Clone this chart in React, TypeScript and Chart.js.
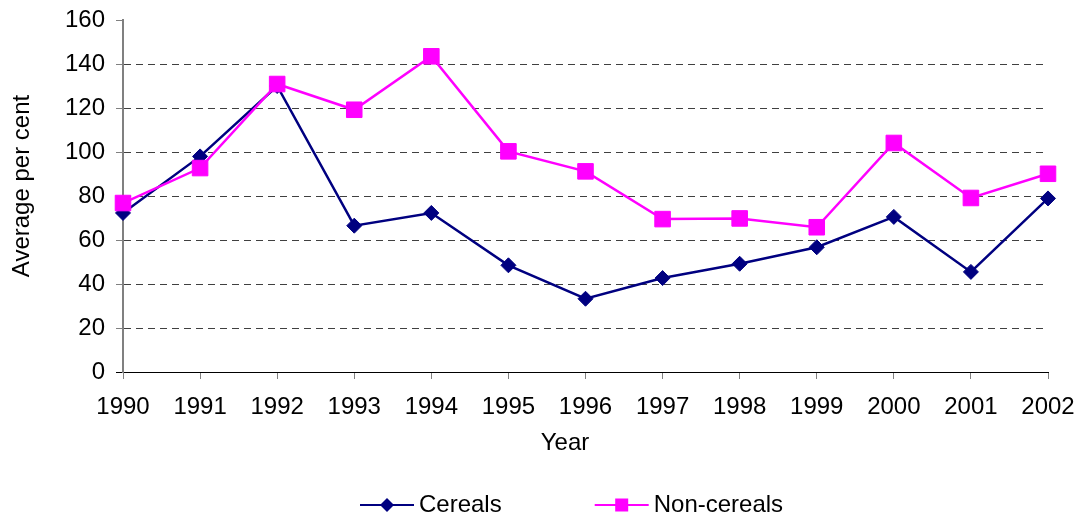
import React, { useEffect, useRef } from "react";
import { Chart, registerables } from "chart.js";

Chart.register(...registerables);

const years = ["1990", "1991", "1992", "1993", "1994", "1995", "1996", "1997", "1998", "1999", "2000", "2001", "2002"];
const cereals = [72.3, 98, 130, 66.5, 72.3, 48.5, 33.3, 42.7, 49.2, 56.7, 70.5, 45.5, 78.9];
const nonCereals = [76.8, 92.7, 130.9, 119.2, 143.5, 100.3, 91.2, 69.5, 69.8, 65.8, 104.1, 79.1, 90.1];
const seriesLabels = ["Cereals", "Non-cereals"];
const xTitle = "Year";
const yTitle = "Average per cent";
const yMin = 0;
const yMax = 160;
const yStep = 20;

const FONT = '"Liberation Sans", Arial, Helvetica, sans-serif';
const NAVY = "#000080";
const MAGENTA = "#FF00FF";

const decorPlugin = {
  id: "decor",
  afterDraw(chart: any) {
    const ctx: CanvasRenderingContext2D = chart.ctx;
    ctx.save();
    ctx.fillStyle = "#000";
    ctx.font = `24px ${FONT}`;
    ctx.textAlign = "center";
    ctx.textBaseline = "middle";
    // axis titles
    ctx.fillText(xTitle, 565, 443);
    ctx.save();
    ctx.translate(22, 186);
    ctx.rotate(-Math.PI / 2);
    ctx.fillText(yTitle, 0, 0);
    ctx.restore();
    // legend
    let x = 360;
    const y = 505;
    ctx.textAlign = "left";
    chart.data.datasets.forEach((ds: any) => {
      ctx.strokeStyle = ds.borderColor;
      ctx.lineWidth = 2;
      ctx.beginPath();
      ctx.moveTo(x, y);
      ctx.lineTo(x + 54, y);
      ctx.stroke();
      const cx = x + 27;
      ctx.fillStyle = ds.backgroundColor;
      ctx.beginPath();
      if (ds.pointStyle === "rectRot") {
        ctx.moveTo(cx, y - 7);
        ctx.lineTo(cx + 7, y);
        ctx.lineTo(cx, y + 7);
        ctx.lineTo(cx - 7, y);
        ctx.closePath();
      } else {
        ctx.rect(cx - 6.5, y - 6.5, 13, 13);
      }
      ctx.fill();
      ctx.fillStyle = "#000";
      ctx.fillText(ds.label, x + 59, y);
      const w = ctx.measureText(ds.label).width;
      x += 54 + 5 + w + 93;
    });
    ctx.restore();
  },
};

export default function App() {
  const ref = useRef<HTMLCanvasElement | null>(null);
  useEffect(() => {
    document.body.style.margin = "0";
    const canvas = ref.current;
    if (!canvas) return;
    const chart = new Chart(canvas, {
      type: "line",
      data: {
        labels: years,
        datasets: [
          {
            label: seriesLabels[0],
            data: cereals,
            borderColor: NAVY,
            backgroundColor: NAVY,
            borderWidth: 2.5,
            pointStyle: "rectRot",
            pointRadius: 7.5,
            pointBorderWidth: 1,
            pointBackgroundColor: NAVY,
            pointBorderColor: NAVY,
            tension: 0,
            order: 1,
          },
          {
            label: seriesLabels[1],
            data: nonCereals,
            borderColor: MAGENTA,
            backgroundColor: MAGENTA,
            borderWidth: 2.5,
            pointStyle: "rect",
            pointRadius: 11,
            pointBorderWidth: 1,
            pointBackgroundColor: MAGENTA,
            pointBorderColor: MAGENTA,
            tension: 0,
            order: 0,
          },
        ],
      },
      options: {
        responsive: false,
        animation: false,
        layout: { padding: { top: 20, right: 36, bottom: 0, left: 0 } },
        plugins: {
          legend: { display: false },
          tooltip: { enabled: false },
          title: { display: false },
        },
        scales: {
          x: {
            type: "category",
            offset: false,
            grid: {
              drawOnChartArea: false,
              drawTicks: true,
              tickLength: 7,
              color: "#808080",
              tickColor: "#808080",
            },
            border: { color: "#000", width: 1 },
            ticks: {
              color: "#000",
              font: { family: FONT, size: 24 },
              padding: 14,
              maxRotation: 0,
              autoSkip: false,
            },
            afterFit: (s: any) => {
              s.height = 149;
              s.paddingLeft = 0;
              s.paddingRight = 0;
            },
          },
          y: {
            min: yMin,
            max: yMax,
            ticks: {
              stepSize: yStep,
              color: "#000",
              font: { family: FONT, size: 24 },
              padding: 11,
            },
            grid: {
              color: (c: any) =>
                c.tick && (c.tick.value === yMin || c.tick.value === yMax) ? "rgba(0,0,0,0)" : "#404040",
              tickColor: (c: any) => (c.tick && c.tick.value === yMin ? "#000" : "#808080"),
              tickLength: 7,
              lineWidth: 1,
              tickBorderDash: [],
            },
            border: { color: "#808080", width: 2, dash: [7, 5] },
            afterFit: (s: any) => {
              s.width = 123;
              s.paddingTop = 0;
              s.paddingBottom = 0;
            },
          },
        },
      },
      plugins: [decorPlugin],
    });
    return () => chart.destroy();
  }, []);
  return <canvas ref={ref} width={1084} height={521} style={{ display: "block" }} />;
}
